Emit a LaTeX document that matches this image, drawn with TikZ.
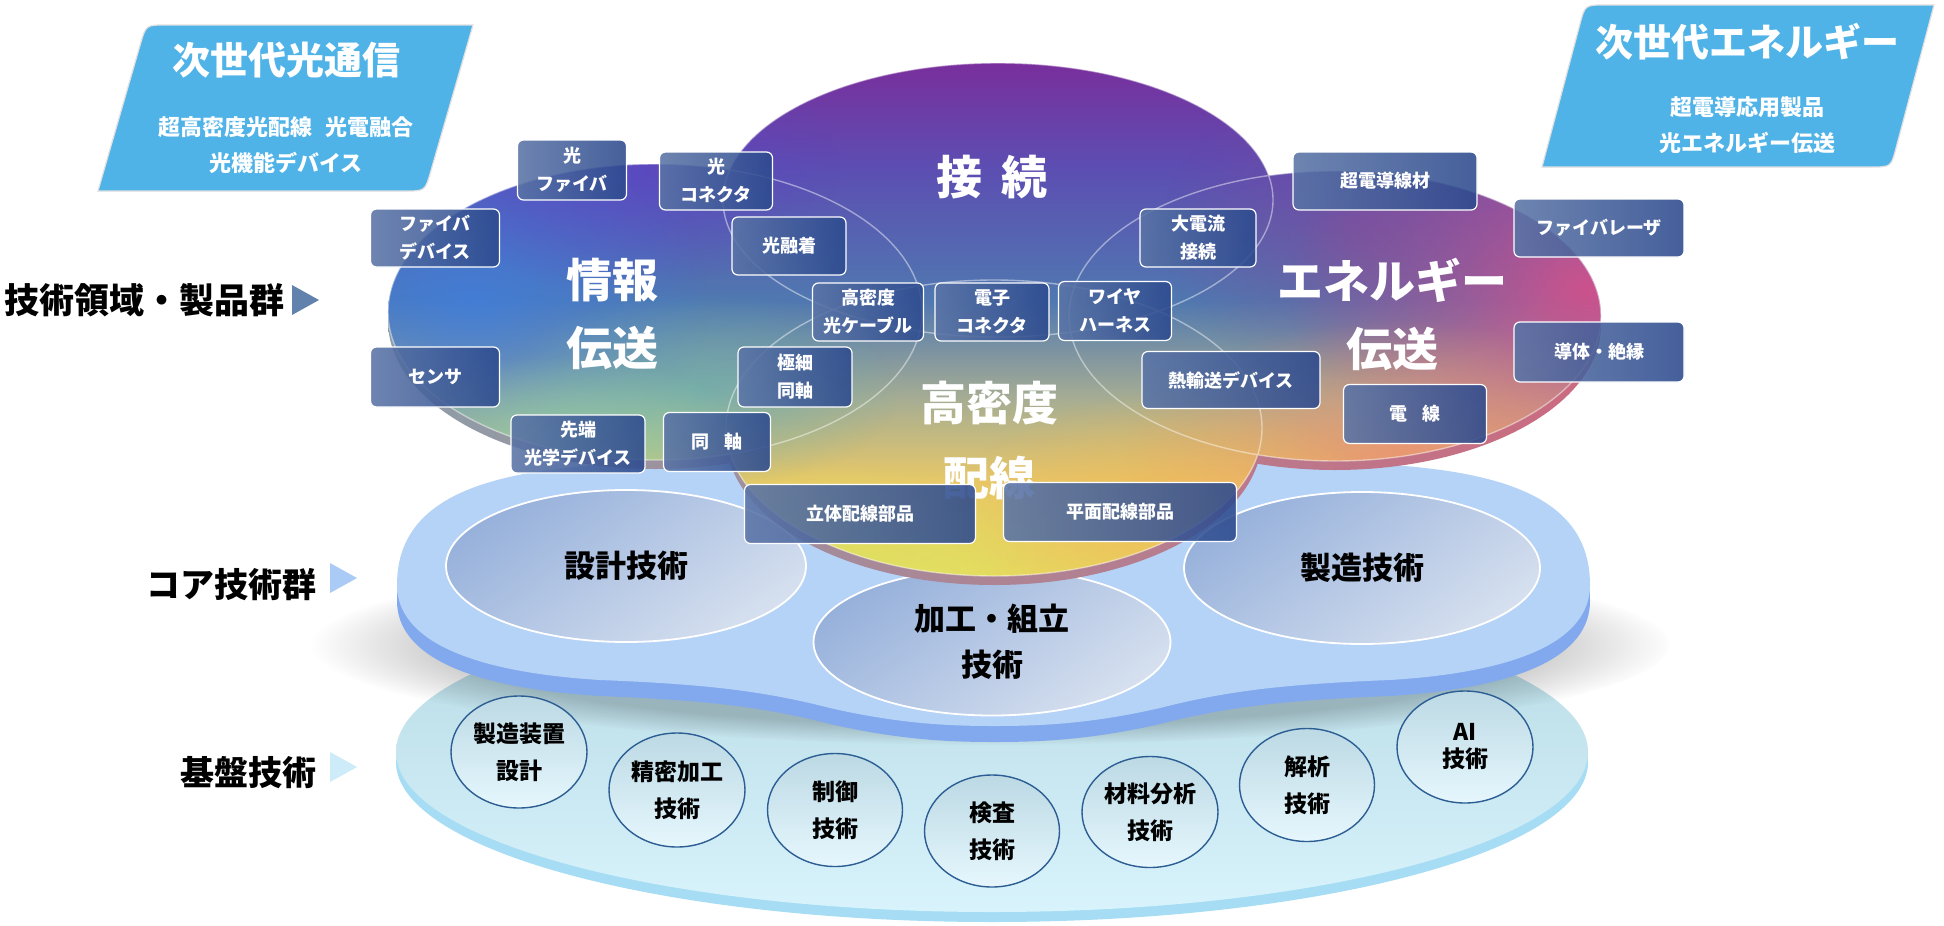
\documentclass[tikz,border=0pt]{standalone}
\usepackage{fontspec}
\setmainfont{Noto Sans CJK JP}
\usetikzlibrary{shapes.geometric,fadings}

\definecolor{paraC}{HTML}{50B3E8}
\definecolor{boxA}{HTML}{5A74A6}
\definecolor{boxB}{HTML}{2C4A8E}
\definecolor{circT}{HTML}{BCD9E4}
\definecolor{circBot}{HTML}{E6F7FD}
\definecolor{circB}{HTML}{2C5D93}
\definecolor{coreA}{HTML}{97B1DB}
\definecolor{coreB}{HTML}{D6E0EF}
\definecolor{coreTop}{HTML}{B5D3F7}
\definecolor{coreRim}{HTML}{82A9EE}
\definecolor{baseTop}{HTML}{B4D8E2}
\definecolor{baseMid}{HTML}{CDEEF8}
\definecolor{baseBot}{HTML}{D8F3FC}
\definecolor{baseRim}{HTML}{A6DDF4}
\definecolor{triA}{HTML}{6082AC}
\definecolor{triB}{HTML}{A9CBF5}
\definecolor{triC}{HTML}{CDEBF8}
\definecolor{lY}{HTML}{E6DE60}
\definecolor{lO}{HTML}{E8C868}
\definecolor{lG}{HTML}{A8AE92}
\definecolor{lB}{HTML}{5078B0}
\definecolor{lV}{HTML}{5C4EB2}
\definecolor{lP}{HTML}{7A2E9C}
\definecolor{rimL}{HTML}{8E9EA8}
\definecolor{rimM}{HTML}{D4CC5A}
\definecolor{rimR}{HTML}{CC6A80}
\definecolor{blobBlue}{HTML}{3F7FE0}
\definecolor{blobViolet}{HTML}{5A44CC}
\definecolor{blobPink}{HTML}{DA4E88}
\definecolor{blobMauve}{HTML}{8A4894}
\definecolor{blobSalmon}{HTML}{EE9070}
\definecolor{blobOrange}{HTML}{F0B858}
\definecolor{blobGreen}{HTML}{8FD4A8}
\definecolor{blobTeal}{HTML}{5CB0B8}
\definecolor{blobYG}{HTML}{DCE260}

\tikzfading[name=blobfade, inner color=transparent!0, outer color=transparent!100]
\pgfdeclareverticalshading{lobeshade}{100bp}{color(0bp)=(lY); color(25bp)=(lY); color(34.4bp)=(lO); color(42.2bp)=(lG); color(51.9bp)=(lB); color(64.6bp)=(lV); color(75bp)=(lP); color(100bp)=(lP)}

\newcommand{\lobepath}{(655,312) ellipse [x radius=267, y radius=148] (998,200) ellipse [x radius=275, y radius=137] (1335,316) ellipse [x radius=266, y radius=145] (994,428) ellipse [x radius=268, y radius=148]}
\newcommand{\coreslab}{(397,585) .. controls (397,482) and (520,462) .. (700,462) -- (1290,462) .. controls (1470,462) and (1590,482) .. (1590,585) .. controls (1590,640) and (1520,672) .. (1390,680) .. controls (1290,684) and (1230,690) .. (1160,708) .. controls (1090,724) and (1040,726) .. (994,726) .. controls (950,726) and (900,724) .. (830,708) .. controls (760,690) and (700,684) .. (600,680) .. controls (470,672) and (397,640) .. (397,585) -- cycle}

\tikzset{
 pbox/.style={draw=white, line width=1.2pt, rounded corners=6pt, left color=boxA, right color=boxB, fill opacity=0.88, text opacity=1, text=white, font=\bfseries\fontsize{18}{28}\selectfont, align=center, inner sep=0pt},
 gcircle/.style={ellipse, draw=circB, line width=1.4pt, top color=circT, bottom color=circBot, text=black, font=\bfseries\fontsize{23}{37}\selectfont, align=center, inner sep=0pt},
 core/.style={ellipse, draw=white, line width=1.8pt, top color=coreA, bottom color=coreB, shading angle=35, text=black, font=\bfseries\fontsize{31}{46}\selectfont, align=center, inner sep=0pt},
 big/.style={text=white, font=\bfseries\fontsize{46}{68}\selectfont, align=center},
 side/.style={text=black, font=\bfseries\fontsize{34}{40}\selectfont, anchor=east, inner sep=0pt},
 para/.style={fill=paraC, draw=gray!25, line width=1.2pt},
 ptitle/.style={text=white, font=\bfseries\fontsize{38}{44}\selectfont, inner sep=0pt},
 psub/.style={text=white, font=\bfseries\fontsize{22}{36}\selectfont, align=center, inner sep=0pt},
 blob/.style={path fading=blobfade}
}

\begin{document}
\begin{tikzpicture}[x=1pt,y=-1pt]
\useasboundingbox (0,0) rectangle (1944,926);
\fill[white] (0,0) rectangle (1944,926);

% ---- base slab
\fill[baseRim] (992,762) ellipse [x radius=596, y radius=160];
\shade[top color=baseTop, middle color=baseMid, bottom color=baseBot] (992,752) ellipse [x radius=596, y radius=160];
\fill[black, opacity=0.2, path fading=circle with fuzzy edge 20 percent] (992,645) ellipse [x radius=680, y radius=100];

% ---- base circles
\node[gcircle, minimum width=136pt, minimum height=112pt] (c1) at (519,752) {製造装置\\設計};
\node[gcircle, minimum width=136pt, minimum height=114pt] (c2) at (677,790) {精密加工\\技術};
\node[gcircle, minimum width=135pt, minimum height=113pt] (c3) at (835,810) {制御\\技術};
\node[gcircle, minimum width=135pt, minimum height=112pt] (c4) at (992,831) {検査\\技術};
\node[gcircle, minimum width=136pt, minimum height=111pt] (c5) at (1150,812) {材料分析\\技術};
\node[gcircle, minimum width=135pt, minimum height=113pt] (c6) at (1307,785) {解析\\技術};
\node[gcircle, minimum width=136pt, minimum height=112pt] (c7) at (1465,747) {AI\\[-10pt]技術};

% ---- core slab
\fill[coreRim, shift={(0,16)}] \coreslab;
\fill[coreTop] \coreslab;
\node[core, minimum width=360pt, minimum height=152pt] (e1) at (626,566) {設計技術};
\node[core, minimum width=356pt, minimum height=152pt] (e3) at (1362,568) {製造技術};
\node[core, minimum width=357pt, minimum height=147pt] (e2) at (992,642) {加工・組立\\技術};

% ---- colourful lobes
\shade[left color=rimL, middle color=rimM, right color=rimR, shift={(0,9)}] \lobepath;
\begin{scope}
\clip \lobepath;
\shade[shading=lobeshade] (380,60) rectangle (1610,580);
\fill[blobBlue, blob, fill opacity=0.75] (470,300) ellipse [x radius=240, y radius=200];
\fill[blobViolet, blob, fill opacity=0.55] (620,170) ellipse [x radius=220, y radius=120];
\fill[blobTeal, blob, fill opacity=0.6] (700,390) ellipse [x radius=200, y radius=100];
\fill[blobPink, blob, fill opacity=0.9] (1590,290) ellipse [x radius=300, y radius=220];
\fill[blobMauve, blob, fill opacity=0.5] (1360,230) ellipse [x radius=200, y radius=150];
\fill[blobSalmon, blob, fill opacity=0.85] (1400,460) ellipse [x radius=280, y radius=140];
\fill[blobOrange, blob, fill opacity=0.75] (1170,520) ellipse [x radius=220, y radius=130];
\fill[blobGreen, blob, fill opacity=0.75] (560,445) ellipse [x radius=200, y radius=90];
\fill[blobYG, blob, fill opacity=0.75] (830,560) ellipse [x radius=220, y radius=100];
\end{scope}
\draw[white, opacity=0.45, line width=1.4pt] \lobepath;

% ---- big labels
\node[big] (L1) at (612,314) {情報\\伝送};
\node[big] (L2) at (992,177) {接\hspace{0.4em}続};
\node[big] (L3) at (1392,314) {エネルギー\\伝送};
\node[big, font=\bfseries\fontsize{46}{75}\selectfont] (L4) at (989,440) {高密度\\配線};

% ---- product boxes
\node[pbox, minimum width=109pt, minimum height=60pt] (b1) at (572,170) {光\\ファイバ};
\node[pbox, minimum width=129pt, minimum height=58pt] (b2) at (435,238) {ファイバ\\デバイス};
\node[pbox, minimum width=129pt, minimum height=60pt] (b3) at (435,377) {センサ};
\node[pbox, minimum width=134pt, minimum height=58pt] (b4) at (578,444) {先端\\光学デバイス};
\node[pbox, minimum width=113pt, minimum height=58pt] (b5) at (716,181) {光\\コネクタ};
\node[pbox, minimum width=114pt, minimum height=58pt] (b6) at (789,246) {光融着};
\node[pbox, minimum width=111pt, minimum height=58pt] (b7) at (868,312) {高密度\\光ケーブル};
\node[pbox, minimum width=114pt, minimum height=58pt] (b8) at (992,312) {電子\\コネクタ};
\node[pbox, minimum width=113pt, minimum height=59pt] (b9) at (1115,311) {ワイヤ\\ハーネス};
\node[pbox, minimum width=116pt, minimum height=58pt] (b10) at (1198,238) {大電流\\接続};
\node[pbox, minimum width=114pt, minimum height=60pt] (b11) at (795,377) {極細\\同軸};
\node[pbox, minimum width=107pt, minimum height=59pt] (b12) at (717,442) {同\hspace{0.8em}軸};
\node[pbox, minimum width=178pt, minimum height=57pt] (b13) at (1231,380) {熱輸送デバイス};
\node[pbox, minimum width=184pt, minimum height=58pt] (b14) at (1385,181) {超電導線材};
\node[pbox, minimum width=170pt, minimum height=58pt] (b15) at (1599,228) {ファイバレーザ};
\node[pbox, minimum width=170pt, minimum height=60pt] (b16) at (1599,352) {導体・絶縁};
\node[pbox, minimum width=143pt, minimum height=59pt] (b17) at (1415,414) {電\hspace{0.8em}線};
\node[pbox, minimum width=231pt, minimum height=59pt] (b18) at (860,514) {立体配線部品};
\node[pbox, minimum width=233pt, minimum height=59pt] (b19) at (1120,512) {平面配線部品};

% ---- parallelograms
\path[para] (98,191) -- (140.4,44.2) .. controls (146,25) .. (166,25) -- (473,25) -- (430.6,171.8) .. controls (425,191) .. (405,191) -- cycle;
\node[ptitle] (p1t) at (286,60) {次世代光通信};
\node[psub] (p1s) at (286,145) {超高密度光配線\hspace{0.6em}光電融合\\光機能デバイス};
\path[para] (1542,167) -- (1579.9,24.3) .. controls (1585,5) .. (1605,5) -- (1934,5) -- (1896.1,147.7) .. controls (1891,167) .. (1871,167) -- cycle;
\node[ptitle] (p2t) at (1747,42) {次世代エネルギー};
\node[psub] (p2s) at (1747,125) {超電導応用製品\\光エネルギー伝送};

% ---- side labels
\node[side, font=\bfseries\fontsize{35}{40}\selectfont] (s1) at (285,300) {技術領域・製品群};
\fill[triA] (292,285) -- (292,315) -- (319,300) -- cycle;
\node[side] (s2) at (317,585) {コア技術群};
\fill[triB] (330,563) -- (330,593) -- (357,578) -- cycle;
\node[side] (s3) at (317,773) {基盤技術};
\fill[triC] (330,752) -- (330,782) -- (357,767) -- cycle;
\end{tikzpicture}
\end{document}
